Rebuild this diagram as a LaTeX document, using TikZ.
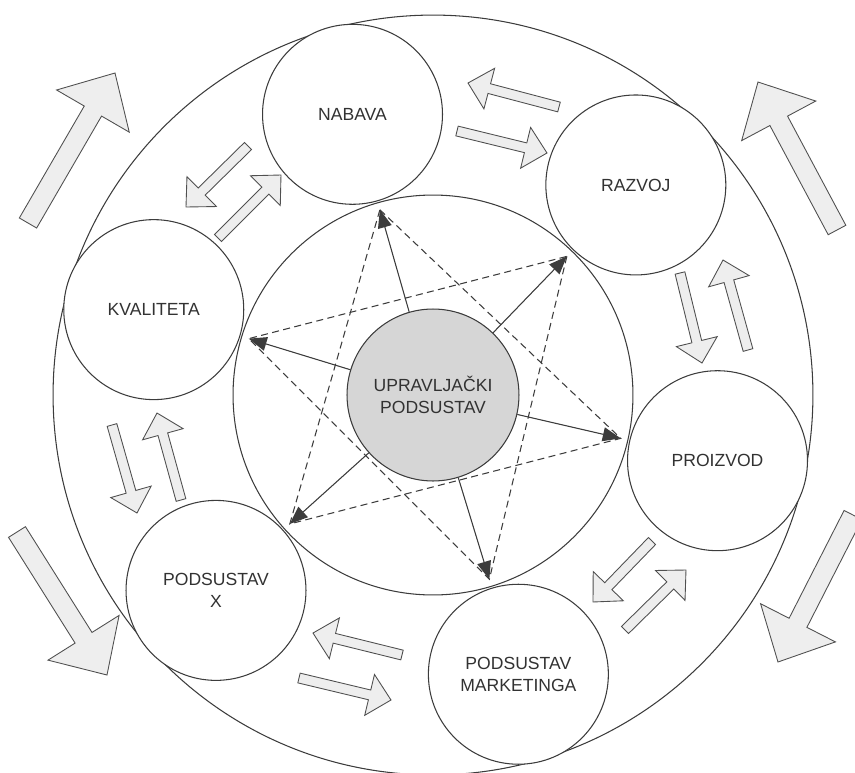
\documentclass[tikz,border=0pt]{standalone}
\usepackage{fontspec}
\setmainfont{Liberation Sans}
\usetikzlibrary{arrows.meta,calc}
\definecolor{linegray}{RGB}{60,60,60}
\definecolor{blokfill}{RGB}{238,238,238}
\definecolor{ctrlgray}{RGB}{214,214,214}
\definecolor{txtgray}{RGB}{50,50,50}
\tikzset{
  ring/.style={circle,draw=linegray,line width=0.6pt,inner sep=0pt},
  sub/.style={ring,minimum size=3.6cm,fill=white,align=center,text=txtgray,
              font=\fontsize{10}{12.5}\selectfont},
  blok/.style={draw=linegray!90,fill=blokfill,line width=0.5pt},
  star/.style={draw=linegray,line width=0.6pt,dash pattern=on 4pt off 2.5pt},
  ctrlarrow/.style={-{Triangle[length=3.6mm,width=2.8mm]},draw=linegray,
                    fill=linegray,line width=0.6pt}
}
% block arrow: tail x,y; tip x,y; size factor
\newcommand{\blokarrow}[5]{%
  \pgfmathsetmacro\bang{atan2(#4-#2,#3-#1)}
  \pgfmathsetmacro\blen{veclen(#3-#1,#4-#2)}
  \begin{scope}[shift={(#1,#2)},rotate=\bang]
    \draw[blok] (0,{-5*#5}) -- ({\blen-22*#5},{-5*#5}) -- ({\blen-22*#5},{-21*#5})
      -- (\blen,0) -- ({\blen-22*#5},{21*#5}) -- ({\blen-22*#5},{5*#5})
      -- (0,{5*#5}) -- cycle;
  \end{scope}}

\begin{document}
\begin{tikzpicture}[x=0.02cm,y=0.02cm]
  \useasboundingbox (-433,-377) rectangle (422,395);
  % rings
  \node[ring,minimum size=15.2cm] (outer) at (0,0) {};
  \node[ring,minimum size=8cm] (inner) at (0,0) {};
  % subsystems
  \node[sub] (nabava)    at (106:292)  {NABAVA};
  \node[sub] (razvoj)    at (46:292)   {RAZVOJ};
  \node[sub] (proizvod)  at (-13:292)  {PROIZVOD};
  \node[sub] (marketing) at (-73:292)  {PODSUSTAV\\MARKETINGA};
  \node[sub] (podx)      at (-138:292) {PODSUSTAV\\X};
  \node[sub] (kvaliteta) at (163:292)  {KVALITETA};
  % star points on the inner ring
  \foreach \s in {nabava,razvoj,proizvod,marketing,podx,kvaliteta}
    {\coordinate (v\s) at ($(0,0)!0.66!(\s)$);}
  \draw[star] (vnabava) -- (vproizvod) -- (vpodx) -- cycle;
  \draw[star] (vrazvoj) -- (vmarketing) -- (vkvaliteta) -- cycle;
  % control subsystem
  \node[ring,minimum size=3.44cm,fill=ctrlgray,align=center,text=txtgray,
        font=\fontsize{10}{12.5}\selectfont] (ctrl) at (0,0) {UPRAVLJAČKI\\PODSUSTAV};
  \foreach \s in {nabava,razvoj,proizvod,marketing,podx,kvaliteta}
    {\draw[ctrlarrow] (ctrl) -- (v\s);}
  % exchange between neighbours
  \blokarrow{-185}{249}{-247}{188}{1}
  \blokarrow{-215}{157}{-152}{220}{1}
  \blokarrow{126}{288}{35}{312}{1}
  \blokarrow{24}{264}{114}{242}{1}
  \blokarrow{247}{122}{269}{32}{1}
  \blokarrow{315}{45}{290}{135}{1}
  \blokarrow{-321}{-30}{-296}{-118}{1}
  \blokarrow{-252}{-105}{-276}{-18}{1}
  \blokarrow{-31}{-260}{-120}{-238}{1}
  \blokarrow{-134}{-283}{-42}{-305}{1}
  \blokarrow{219}{-146}{160}{-207}{1}
  \blokarrow{192}{-235}{253}{-175}{1}
  % rotation outside
  \blokarrow{-405}{172}{-318}{322}{2}
  \blokarrow{404}{165}{325}{313}{2}
  \blokarrow{-416}{-137}{-326}{-280}{2}
  \blokarrow{420}{-120}{345}{-267}{2}
\end{tikzpicture}
\end{document}
